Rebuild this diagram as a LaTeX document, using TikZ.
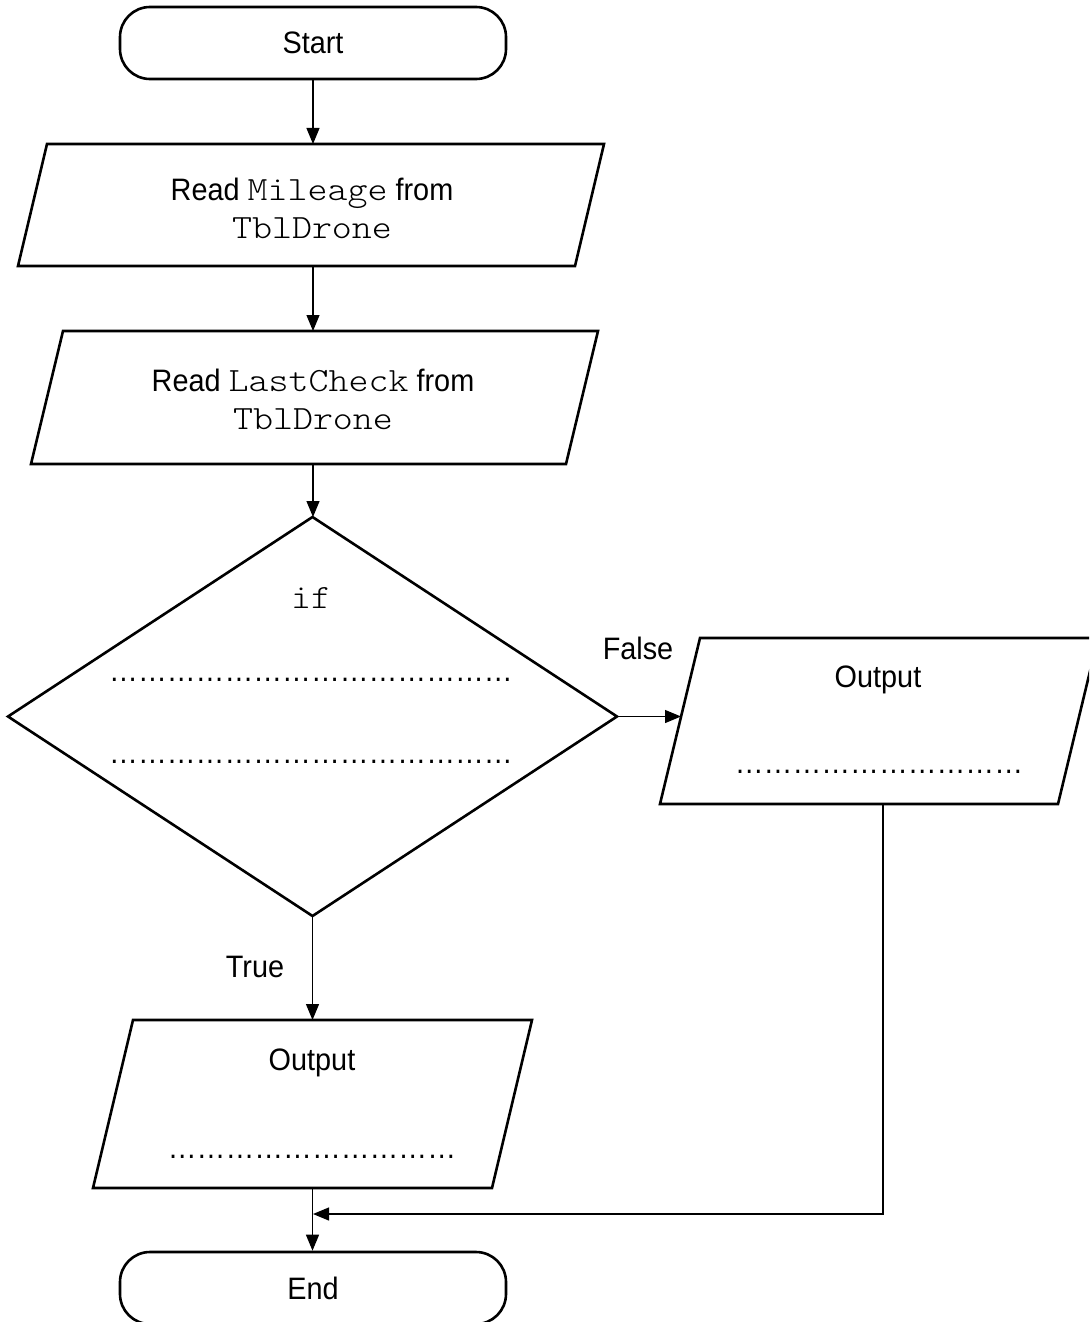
\documentclass[tikz,border=0pt]{standalone}
\usepackage{fontspec}
\setmainfont{Liberation Sans}[FakeStretch=0.93]
\setmonofont{Latin Modern Mono Light}[FakeStretch=1.12]
\usetikzlibrary{arrows.meta,calc}
\newcommand\codetxt[1]{{\fontsize{17}{19}\selectfont\ttfamily #1}}
\begin{document}
\begin{tikzpicture}[x=0.5pt,y=-0.5pt,
  box/.style={inner sep=0pt, outer sep=0pt},
  shapeline/.style={line width=1.3pt, line join=miter},
  conn/.style={line width=0.6pt},
  arr/.style={conn, -{Triangle[length=8pt,width=6.5pt]}},
  txt/.style={font=\fontsize{15.5}{19}\selectfont, align=center, inner sep=0pt},
  term/.style={draw, line width=1.3pt, rounded corners=15pt, minimum width=193pt, minimum height=36pt, inner sep=0pt, font=\fontsize{15.5}{19}\selectfont}]
\useasboundingbox (0,0) rectangle (1089,1322);
\clip (0,0) rectangle (1089,1322);

% terminals
\node[term] (start) at (313,43) {Start};
\node[term] (end) at (313,1288) {End};

% input 1
\node[box, minimum width=293pt, minimum height=61pt] (r1) at (311,205) {};
\draw[shapeline] ([xshift=14.5pt]r1.north west) -- (r1.north east) -- ([xshift=-14.5pt]r1.south east) -- (r1.south west) -- cycle;
\node[txt] (r1t) at (312,208) {Read \codetxt{Mileage} from\\\codetxt{TblDrone}};

% input 2
\node[box, minimum width=283.5pt, minimum height=66.5pt] (r2) at (314.5,397.5) {};
\draw[shapeline] ([xshift=16pt]r2.north west) -- (r2.north east) -- ([xshift=-16pt]r2.south east) -- (r2.south west) -- cycle;
\node[txt] (r2t) at (313,399) {Read \codetxt{LastCheck} from\\\codetxt{TblDrone}};

% decision
\node[box, minimum width=304.5pt, minimum height=199.5pt] (dia) at (312.5,716.5) {};
\draw[shapeline] (dia.north) -- (dia.east) -- (dia.south) -- (dia.west) -- cycle;
\node[inner sep=0pt] (ift) at (311,598) {\codetxt{if}};
\node[txt, anchor=base] (d1) at (311,681) {……………………………………};
\node[txt, anchor=base] (d2) at (311,763) {……………………………………};

% right output
\node[box, minimum width=219pt, minimum height=83pt] (ro) at (879,721) {};
\draw[shapeline] ([xshift=20pt]ro.north west) -- (ro.north east) -- ([xshift=-20pt]ro.south east) -- (ro.south west) -- cycle;
\node[txt] (rot) at (878,680) {Output};
\node[txt, anchor=base] (rod) at (879,773) {…………………………};

% bottom output
\node[box, minimum width=219.5pt, minimum height=84pt] (ob) at (312.5,1104) {};
\draw[shapeline] ([xshift=20pt]ob.north west) -- (ob.north east) -- ([xshift=-20pt]ob.south east) -- (ob.south west) -- cycle;
\node[txt] (obt) at (312,1063) {Output};
\node[txt, anchor=base] (obd) at (312,1158) {…………………………};

% labels
\node[txt] (lf) at (638,648) {False};
\node[txt] (lt) at (255,967) {True};

% connectors
\draw[arr] (start.south) -- (start.south |- r1.north);
\draw[arr] (start.south |- r1.south) -- (start.south |- r2.north);
\draw[arr] (start.south |- r2.south) -- (start.south |- dia.north);
\draw[arr] (dia.east) -- ($(ro.west |- dia.east)+(21,0)$);
\draw[arr] (dia.south) -- (dia.south |- ob.north);
\draw[arr] (ob.south) -- (ob.south |- end.north);
\coordinate (jn) at (313,1214);
\coordinate (rb) at (883,804);
\draw[arr] (rb) |- (jn);
\end{tikzpicture}
\end{document}
